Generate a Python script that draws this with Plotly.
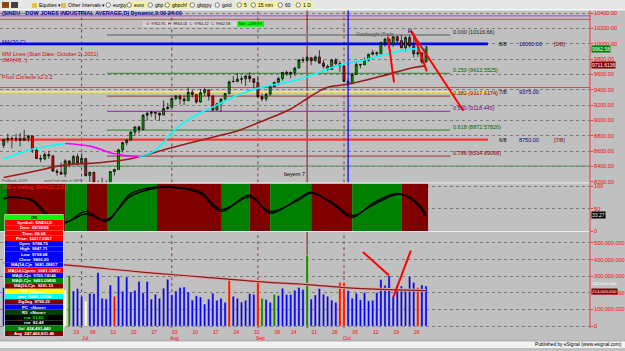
import plotly.graph_objects as go

# ---------------- data ----------------
dates = [
 "2009-06-04","2009-06-05","2009-06-08","2009-06-09","2009-06-10","2009-06-11","2009-06-12",
 "2009-06-15","2009-06-16","2009-06-17","2009-06-18","2009-06-19","2009-06-22","2009-06-23",
 "2009-06-24","2009-06-25","2009-06-26","2009-06-29","2009-06-30",
 "2009-07-01","2009-07-02","2009-07-06","2009-07-07","2009-07-08","2009-07-09","2009-07-10",
 "2009-07-13","2009-07-14","2009-07-15","2009-07-16","2009-07-17","2009-07-20","2009-07-21",
 "2009-07-22","2009-07-23","2009-07-24","2009-07-27","2009-07-28","2009-07-29","2009-07-30","2009-07-31",
 "2009-08-03","2009-08-04","2009-08-05","2009-08-06","2009-08-07","2009-08-10","2009-08-11",
 "2009-08-12","2009-08-13","2009-08-14","2009-08-17","2009-08-18","2009-08-19","2009-08-20",
 "2009-08-21","2009-08-24","2009-08-25","2009-08-26","2009-08-27","2009-08-28","2009-08-31",
 "2009-09-01","2009-09-02","2009-09-03","2009-09-04","2009-09-08","2009-09-09","2009-09-10",
 "2009-09-11","2009-09-14","2009-09-15","2009-09-16","2009-09-17","2009-09-18","2009-09-21",
 "2009-09-22","2009-09-23","2009-09-24","2009-09-25","2009-09-28","2009-09-29","2009-09-30",
 "2009-10-01","2009-10-02","2009-10-05","2009-10-06","2009-10-07","2009-10-08","2009-10-09",
 "2009-10-12","2009-10-13","2009-10-14","2009-10-15","2009-10-16","2009-10-19","2009-10-20",
 "2009-10-21","2009-10-22","2009-10-23","2009-10-26","2009-10-27","2009-10-28","2009-10-29",
]
opens = [8675,8750,8764,8764,8763,8740,8770,8799,8612,8504,8497,8555,8539,8339,8323,8299,8472,8438,8529,
         8447,8504,8280,8324,8163,8178,8183,8146,8332,8359,8616,8711,8743,8848,8916,8882,9069,9093,9108,9096,9070,9154,
         9172,9286,9320,9280,9257,9370,9337,9241,9362,9398,9321,9135,9217,9279,9350,9505,9509,9539,9543,9580,9544,
         9496,9310,9280,9344,9441,9497,9547,9627,9605,9626,9683,9791,9783,9820,9778,9829,9748,9707,9665,9789,9742,
         9712,9509,9487,9599,9731,9725,9786,9865,9885,9871,10016,10063,9996,10093,10041,9949,10081,9972,9868,9882,9762.91]
highs = [8760,8828,8790,8825,8839,8877,8812,8799,8652,8548,8584,8601,8539,8368,8450,8495,8480,8550,8565,
         8570,8504,8330,8330,8215,8250,8215,8340,8370,8630,8720,8760,8855,8920,8930,9080,9110,9125,9110,9100,9260,9230,
         9290,9330,9335,9330,9430,9400,9337,9410,9420,9400,9321,9230,9290,9360,9520,9580,9620,9580,9590,9630,9544,
         9580,9350,9350,9450,9505,9570,9630,9650,9640,9700,9800,9830,9847,9820,9850,9917,9790,9730,9800,9815,9775,
         9712,9540,9620,9760,9740,9820,9870,9920,9900,10030,10070,10063,10100,10110,10119,10100,10110,10090,9930,9882,9963.01]
lows = [8640,8705,8637,8720,8660,8735,8722,8575,8496,8456,8481,8500,8327,8280,8290,8260,8390,8430,8410,
        8440,8270,8195,8155,8087,8160,8110,8135,8280,8359,8580,8675,8740,8800,8830,8870,9000,9050,9010,8995,9070,9140,
        9172,9260,9210,9200,9257,9300,9220,9230,9320,9260,9120,9135,9110,9260,9350,9500,9500,9480,9450,9500,9420,
        9300,9250,9250,9320,9441,9460,9520,9580,9550,9580,9680,9750,9768,9720,9770,9745,9680,9645,9665,9720,9635,
        9500,9430,9487,9599,9680,9725,9770,9850,9840,9871,9960,9950,9960,10010,9940,9900,9950,9820,9830,9740,9760.12]
closes = [8750,8764,8764,8763,8740,8770,8799,8612,8504,8497,8555,8539,8339,8323,8299,8472,8438,8529,8447,
          8504,8280,8324,8163,8178,8183,8146,8332,8359,8616,8711,8743,8848,8916,8882,9069,9093,9108,9096,9070,9154,9172,
          9286,9320,9280,9257,9370,9337,9241,9362,9398,9321,9135,9217,9279,9350,9505,9509,9539,9543,9580,9544,9496,
          9310,9280,9344,9441,9497,9547,9627,9605,9626,9683,9791,9783,9820,9778,9829,9748,9707,9665,9789,9742,9712,
          9509,9487,9599,9731,9725,9786,9865,9885,9871,10016,10063,9996,10093,10041,9949,10081,9972,9868,9882,9762,9962.58]

# volume in millions of shares
volume_m = [232,250,240,260,270,255,230,290,300,280,260,420,300,280,260,
            216,305,212,226,179,149,198,196,323,168,163,248,179,302,210,296,206,216,270,202,268,163,192,168,228,282,
            189,212,232,236,206,157,183,175,
            133,163,198,155,167,143,286,179,167,145,155,196,192,262,167,161,143,192,184,228,190,190,216,232,220,424,
            163,187,226,192,179,157,143,262,262,214,167,198,159,202,153,155,202,280,246,302,177,212,242,226,300,262,
            232,248,242]
# volume bar state: b=normal, r=red, g=green, w=white
volume_state = list("bbbbbbbbbbbbbbb" + "wgbbbwbbbbbbrbbbbbbbbbbbbb" + "bbbbbbbb" +
                    "bbbbbbrbbbbbbrgbbgbbbbbbbgbbbbbbbrrbbbbbbbbbbbbbbbbbrbbw")

# overlays (bar index -> value)
fast_ma_idx = [0, 7, 15, 21, 27, 33, 37, 41, 44, 48, 52, 57, 62, 67, 72, 77, 83, 88, 93, 98, 103]
fast_ma_val = [8500, 8625, 8700, 8665, 8565, 8525, 8610, 8840, 8975, 9100, 9200, 9330, 9420, 9480,
               9535, 9630, 9740, 9790, 9860, 9920, 9950]
slow_ma_idx = [0, 7, 15, 23, 31, 40, 52, 57, 63, 70, 75, 79, 84, 92, 100, 103]
slow_ma_val = [8255, 8330, 8420, 8447, 8500, 8630, 8795, 8863, 8990, 9150, 9320, 9433, 9472, 9576, 9692, 9712]
vol_ma_idx = [0, 15, 25, 35, 48, 62, 74, 83, 94, 103]
vol_ma_val = [380, 368, 345, 322, 296, 268, 250, 232, 220, 214]

rsi_idx = [0, 2, 7, 11, 15, 20, 25, 31, 37, 42, 48, 53, 60, 65, 72, 75, 80, 85, 90, 96, 100, 103]
rsi_val = [73, 76, 67, 29, 18, 44, 22, 84, 98, 97, 84, 44, 80, 40, 73, 87, 62, 31, 62, 84, 67, 33]
rsi_sma = [72, 75, 70, 35, 20, 38, 25, 78, 96, 98, 87, 48, 76, 44, 70, 85, 65, 35, 58, 82, 70, 38]

band_edges = [-0.9, 0.8, 15.0, 20.3, 25.2, 37.4, 53.2, 60.0, 65.0, 75.0, 85.0, 97.0, 103.5]
band_state = ["g", "r", "g", "r", "g", "r", "g", "r", "g", "r", "g", "r"]

fib_levels = [0.000, 0.250, 0.382, 0.500, 0.618, 0.786]
fib_prices = [10116.66, 9613.5525, 9317.6174, 9118.445, 8872.57826, 8534.89068]
mm_prices = [10000.0, 9375.0, 8750.0]
mm_names = ["8/8", "7/8", "6/8"]
mm_tags = ["[0/8]", "", "[7/8]"]

tick_idx = [17, 21, 26, 31, 36, 41, 46, 51, 56, 61, 66, 70, 75, 80, 85, 90, 95, 100]
tick_txt = ["29", "06", "13", "20", "27", "03", "10", "17", "24", "31", "08", "14", "21", "28", "05", "12", "19", "26"]
month_idx = [19, 41, 62, 83]
month_txt = ["Jul", "Aug", "Sep", "Oct"]

# hand drawn trend lines (bar index, value)
price_lines = [((93.7, 10093), (95.2, 9498)), ((99.8, 10145), (103.2, 9640)), ((99.4, 10160), (112.1, 9127))]
volume_lines = [((87.6, 446), (94.0, 304)), ((95.0, 173), (99.3, 454))]

# ---------------- helpers ----------------
W, H = 625, 351
def X(px): return px / W
def Y(py): return 1 - py / H

BG = "#c0c0c0"
FONT = "Liberation Sans"
XR = [-0.902, 143.0]
XD = [0, 590 / W]

fig = go.Figure()

# candles
fig.add_trace(go.Candlestick(
    x=dates, open=opens, high=highs, low=lows, close=closes, xaxis="x", yaxis="y",
    increasing=dict(fillcolor="#00a000", line=dict(color="#000000", width=0.7)),
    decreasing=dict(fillcolor="#ee0000", line=dict(color="#000000", width=0.7)),
    whiskerwidth=0, showlegend=False, hoverinfo="skip"))

# slow MA (brown)
fig.add_trace(go.Scatter(x=[dates[i] for i in slow_ma_idx], y=slow_ma_val, mode="lines",
                         line=dict(color="#9a1c1c", width=1.6, shape="spline"), xaxis="x", yaxis="y",
                         showlegend=False, hoverinfo="skip"))
# fast MA: cyan rising, magenta falling
seg_a = fast_ma_idx[:3]; seg_b = fast_ma_idx[2:6]; seg_c = fast_ma_idx[5:]
for seg, col in [(seg_a, "#00ffff"), (seg_b, "#ff00ff"), (seg_c, "#00ffff")]:
    fig.add_trace(go.Scatter(x=[dates[i] for i in seg], y=[fast_ma_val[fast_ma_idx.index(i)] for i in seg],
                             mode="lines", line=dict(color=col, width=1.6, shape="spline"),
                             xaxis="x", yaxis="y", showlegend=False, hoverinfo="skip"))

# RSI
fig.add_trace(go.Scatter(x=[dates[i] for i in rsi_idx], y=rsi_val, mode="lines",
                         line=dict(color="#000000", width=1.4, shape="spline"), xaxis="x2", yaxis="y2",
                         showlegend=False, hoverinfo="skip"))
fig.add_trace(go.Scatter(x=[dates[i] for i in rsi_idx], y=rsi_sma, mode="lines",
                         line=dict(color="#000000", width=1.4, shape="spline"), xaxis="x2", yaxis="y2",
                         showlegend=False, hoverinfo="skip"))

# volume
vcol = {"b": "#0000ff", "r": "#ff0000", "g": "#008000", "w": "#ffffff"}
fig.add_trace(go.Bar(x=dates, y=[v * 1e6 for v in volume_m], marker=dict(color=[vcol[s] for s in volume_state],
                     line=dict(color="#e8e0a0", width=0.4)), width=0.55, xaxis="x3", yaxis="y3",
                     showlegend=False, hoverinfo="skip"))
fig.add_trace(go.Scatter(x=[dates[i] for i in vol_ma_idx], y=[v * 1e6 for v in vol_ma_val], mode="lines",
                         line=dict(color="#d8a8a8", width=3, shape="spline"), xaxis="x3", yaxis="y3",
                         showlegend=False, hoverinfo="skip"))
fig.add_trace(go.Scatter(x=[dates[i] for i in vol_ma_idx], y=[v * 1e6 for v in vol_ma_val], mode="lines",
                         line=dict(color="#8b1a1a", width=1.2, shape="spline"), xaxis="x3", yaxis="y3",
                         showlegend=False, hoverinfo="skip"))

shapes = []
ann = []

def text(xp, yp, s, color="#000000", size=5.5, xanchor="left", bg=None, bold=False):
    ann.append(dict(x=X(xp), y=Y(yp), xref="paper", yref="paper", text=("<b>%s</b>" % s) if bold else s,
                    showarrow=False, xanchor=xanchor, yanchor="middle",
                    font=dict(color=color, size=size, family=FONT), bgcolor=bg, borderpad=0))

def prect(x0, y0, x1, y1, fill, line=None, layer="above"):
    shapes.append(dict(type="rect", xref="paper", yref="paper", x0=X(x0), x1=X(x1), y0=Y(y1), y1=Y(y0),
                       fillcolor=fill, line=dict(width=0 if line is None else 0.6, color=line or fill), layer=layer))

# RSI bands
for k, st in enumerate(band_state):
    shapes.append(dict(type="rect", xref="x2", yref="y2", x0=band_edges[k], x1=band_edges[k + 1], y0=0, y1=106.7,
                       fillcolor="#008000" if st == "g" else "#800000", line=dict(width=0), layer="between"))

# full width horizontal lines in price panel
for pr, col, w in [(10365, "#a050c0", 1), (10320, "#b05a5a", 1), (9430, "#b05a5a", 1), (8405, "#4f9a4f", 1)]:
    shapes.append(dict(type="line", xref="paper", yref="y", x0=0, x1=XD[1], y0=pr, y1=pr,
                       line=dict(color=col, width=w), layer="between"))
# fib lines
fib_cols = ["#8c8c8c", "#4c8c4c", "#a05050", "#a040b0", "#4c8c4c", "#a05050"]
fib_txt_cols = ["#202020", "#006400", "#8b0000", "#800080", "#006400", "#8b0000"]
for lv, pr, c, tc in zip(fib_levels, fib_prices, fib_cols, fib_txt_cols):
    shapes.append(dict(type="line", xref="x", yref="y", x0=25.2, x1=108.9, y0=pr, y1=pr,
                       line=dict(color=c, width=2 if lv == 0 else 1.2), layer="between"))
    ann.append(dict(x=109.2, y=pr, xref="x", yref="y", text="%.3f (%s)" % (lv, ("%.5f" % pr).rstrip("0").rstrip(".")),
                    showarrow=False, xanchor="left", yanchor="bottom", yshift=-2,
                    font=dict(color=tc, size=5.5, family=FONT)))
# MM lines
mm_cols = ["#0000ff", "#ffff00", "#ff3030"]
mm_w = [2.6, 1.6, 2.2]
for pr, nm, tg, c, w in zip(mm_prices, mm_names, mm_tags, mm_cols, mm_w):
    shapes.append(dict(type="line", xref="x", yref="y", x0=-0.9, x1=118.1, y0=pr, y1=pr,
                       line=dict(color=c, width=w), layer="between"))
    ann.append(dict(x=X(497), y=pr, xref="paper", yref="y", text=nm, showarrow=False, xanchor="left",
                    font=dict(color="#000000", size=5.5, family=FONT)))
    ann.append(dict(x=X(517), y=pr, xref="paper", yref="y", text="%.2f" % pr, showarrow=False, xanchor="left",
                    font=dict(color="#000080", size=5.5, family=FONT)))
    if tg:
        ann.append(dict(x=X(552), y=pr, xref="paper", yref="y", text=tg, showarrow=False, xanchor="left",
                        font=dict(color="#800000", size=5.5, family=FONT)))

# vertical month separators (price + volume panels)
for i in month_idx:
    for yr0, yr1 in [(184, 10), (331, 234)]:
        shapes.append(dict(type="line", xref="x", yref="paper", x0=i, x1=i, y0=Y(yr0), y1=Y(yr1),
                           line=dict(color="#8b3a3a", width=1, dash="dot"), layer="between"))
# solid verticals
shapes.append(dict(type="line", xref="x", yref="paper", x0=74, x1=74, y0=Y(184), y1=Y(10),
                   line=dict(color="#8b1010", width=1), layer="between"))
shapes.append(dict(type="line", xref="x", yref="paper", x0=74, x1=74, y0=Y(331), y1=Y(234),
                   line=dict(color="#8b1010", width=1), layer="between"))
shapes.append(dict(type="line", xref="x", yref="paper", x0=84, x1=84, y0=Y(184), y1=Y(10),
                   line=dict(color="#0000ff", width=1.2), layer="above"))

# hand drawn lines
for (a, b) in price_lines:
    shapes.append(dict(type="line", xref="x", yref="y", x0=a[0], y0=a[1], x1=b[0], y1=b[1],
                       line=dict(color="#ff0000", width=2)))
for (a, b) in volume_lines:
    shapes.append(dict(type="line", xref="x3", yref="y3", x0=a[0], y0=a[1] * 1e6, x1=b[0], y1=b[1] * 1e6,
                       line=dict(color="#ff0000", width=2)))

# panel separators
for yy in [184.5, 233.5]:
    shapes.append(dict(type="line", xref="paper", yref="paper", x0=0, x1=XD[1], y0=Y(yy), y1=Y(yy),
                       line=dict(color="#ececec", width=1)))
# right red axis line
shapes.append(dict(type="line", xref="paper", yref="paper", x0=X(590), x1=X(590), y0=Y(331), y1=Y(10),
                   line=dict(color="#ff3030", width=1)))

# top toolbar
prect(0, 0, 625, 10, "#e6e6e6")
shapes.append(dict(type="line", xref="paper", yref="paper", x0=0, x1=1, y0=Y(10), y1=Y(10),
                   line=dict(color="#ffffff", width=1)))
prect(2, 2, 9, 8, "#8b4513"); prect(11, 2, 18, 8, "#404040")
for xx, lab in [(32, "Equities \u25be"), (61, "Other Intervals \u25be")]:
    prect(xx, 3, xx + 5, 8, "#e8c040")
    text(xx + 6, 5, lab, size=5)
for xx, lab, hi in [(106, "eurjpy", False), (127, "euro", True), (148, "gbp", False), (165, "gbpchf", True),
                    (190, "gbpjpy", False), (215, "gold", False), (237, "5", True), (251, "15 min", True),
                    (278, "60", False), (296, "1 D", True)]:
    if hi:
        prect(xx - 2, 1.5, xx + 6 + 3.3 * len(lab) + 2, 8.5, "#f6f0a0")
    shapes.append(dict(type="circle", xref="paper", yref="paper", x0=X(xx), x1=X(xx + 4.5), y0=Y(7.3), y1=Y(2.8),
                       line=dict(color="#303030", width=0.6), fillcolor="#ffffff"))
    text(xx + 6, 5, lab, size=5)

# title and legends
text(1, 13, "($INDU - DOW JONES INDUSTRIAL AVERAGE,D) Dynamic,0:00-24:00", color="#0000a0", size=5.5, bold=True)
text(1, 42, "MA(20,C)", color="#000080", size=5.5)
text(1, 54, "MM Lines (Start Date: October 2, 2001)", color="#e00000", size=5.5)
text(1, 60.5, "JMA(40,..)", color="#e00000", size=5.5)
text(1, 78, "Pivot Console v2.0.2", color="#e00000", size=5.5)
text(1, 182, "Pullback 2009", color="#505050", size=4)
text(43, 182, "autoTrail sma in GFT", color="#505050", size=4)
text(283, 176, "beyem 7", color="#000000", size=5.5)
text(407, 31, "H", color="#000080", size=5.5, bold=True)
text(355, 34.5, "Overbought (Trade", color="#505050", size=4.5)
text(1, 188.5, "RSI + trailing SMA(10,2,0,)", color="#ff2020", size=5.5)

# OHLC info box
prect(143, 21.5, 237, 27, "#d6d6d6")
text(144.5, 24.2, "O: 9762.91  H: 9963.01  L: 9760.12  C: 9962.58", size=4)
prect(237, 21.5, 264, 27, "#00ff00")
text(250.5, 24.2, "Net: +199.89", size=4, xanchor="center")

# data window
rows = [("OK", "#00ff00", "#000000"), ("Symbol: $INDU,D", "#ff0000", "#ffffff"),
        ("Date: 09/18/09", "#ff0000", "#ffffff"), ("Time: 00:00", "#ff0000", "#ffffff"),
        ("Price: 10217.8857", "#ff0000", "#ffffff"), ("Open  9784.75", "#0000ff", "#ffffff"),
        ("High  9847.71", "#0000ff", "#ffffff"), ("Low  9768.68", "#0000ff", "#ffffff"),
        ("Close  9820.20", "#0000ff", "#ffffff"), ("MA(14,C)n  9681.28817", "#0000ff", "#ffffff"),
        ("MA(14,C)prev  9681.15817", "#ff0000", "#ffffff"), ("MA(0,C)n  9705.74146", "#0000ff", "#ffffff"),
        ("MA(0,C)n  9493.09895", "#008000", "#ffffff"), ("MA(10,C)n  9291.13", "#800000", "#ffffff"),
        ("PC  <None>", "#ffff00", "#ffffff"), ("prev  9481.13918", "#00ffff", "#ffffff"),
        ("ZigZag  9796.23", "#800000", "#ffffff"), ("PC  <None>", "#0000ff", "#ffffff"),
        ("R3  <None>", "#004000", "#ffffff"), ("rsa  51.65", "#000000", "#00ff00"),
        ("rsa  82.48", "#000000", "#ffffff"), ("Vol  424,491,440", "#008000", "#ffffff"),
        ("Avg  247,466,831.46", "#800000", "#ffffff")]
top = 216.5; rh = 5.33
prect(4.5, top - 0.5, 63.5, top + rh * len(rows) + 0.5, "#ffffff")
for k, (s, bg, fc) in enumerate(rows):
    prect(5, top + k * rh, 63, top + (k + 1) * rh, bg)
    text(34, top + (k + 0.5) * rh, s, color=fc, size=4.3, xanchor="center", bold=True)

# right side tags
def tag(ypx, s, bg, fc="#ffffff", size=5):
    ann.append(dict(x=X(590.5), y=Y(ypx), xref="paper", yref="paper", text=s, showarrow=False, xanchor="left",
                    yanchor="middle", font=dict(color=fc, size=size, family=FONT), bgcolor=bg, borderpad=0))
tag(49, "%.2f" % closes[-1], "#008000")
tag(65.5, "%.4f" % 9711.6136, "#800000")
tag(216.5, "33.27", "#000000")
tag(285.5, "{:,}".format(volume_m[-1] * 1000000), None, "#ffffff", 4.4)
tag(294, "{:,}".format(vol_ma_val[-1] * 1000000), "#800000", "#ffffff", 4.4)

# month labels
for i, m in zip(month_idx, month_txt):
    ann.append(dict(x=dates[i], y=Y(341), xref="x3", yref="paper", text=m, showarrow=False, xanchor="center",
                    yanchor="middle", xshift=3, font=dict(color="#ff0000", size=5, family=FONT)))

# bottom strip
prect(0, 344, 625, 351, "#f2f2f2")
shapes.append(dict(type="line", xref="paper", yref="paper", x0=0, x1=1, y0=Y(344), y1=Y(344),
                   line=dict(color="#909090", width=0.6)))
text(623, 347.8, "Published by eSignal (www.esignal.com)", size=4.8, xanchor="right")

axis_common = dict(type="category", categoryorder="array", categoryarray=dates, range=XR, domain=XD,
                   showgrid=False, zeroline=False, showline=False, fixedrange=True)
yfont = dict(color="#ff0000", size=5.5, family=FONT)
fig.update_layout(
    width=W, height=H, margin=dict(l=0, r=0, t=0, b=0),
    paper_bgcolor=BG, plot_bgcolor=BG, showlegend=False,
    xaxis=dict(axis_common, anchor="y", showticklabels=False, rangeslider=dict(visible=False)),
    xaxis2=dict(axis_common, anchor="y2", showticklabels=False, matches="x"),
    xaxis3=dict(axis_common, anchor="y3", matches="x", tickmode="array",
                tickvals=[dates[i] for i in tick_idx], ticktext=tick_txt,
                tickfont=dict(color="#ff0000", size=5, family=FONT),
                ticks="", ticklabelshift=3, ticklabelstandoff=0, tickangle=0),
    yaxis=dict(domain=[Y(184), Y(10)], range=[8191, 10442.7], side="right", anchor="x",
               tickvals=list(range(8200, 10401, 200)), ticktext=["%.2f" % v for v in range(8200, 10401, 200)],
               tickfont=yfont, showgrid=True, gridcolor="#7c7c7c", griddash="dot", gridwidth=1,
               zeroline=False, ticks="outside", ticklen=2, tickcolor="#ff3030", fixedrange=True),
    yaxis2=dict(domain=[Y(233), Y(185)], range=[0, 106.7], side="right", anchor="x2",
                tickvals=[0, 50, 100], tickfont=yfont, showgrid=True, gridcolor="#7c7c7c", griddash="dot",
                zeroline=False, ticks="outside", ticklen=2, tickcolor="#ff3030", fixedrange=True),
    yaxis3=dict(domain=[Y(331), Y(234)], range=[-11.9e6, 565.5e6], side="right", anchor="x3",
                tickvals=[0, 100e6, 200e6, 300e6, 400e6, 500e6],
                ticktext=["0", "100,000,000", "200,000,000", "300,000,000", "400,000,000", "500,000,000"],
                tickfont=yfont, showgrid=True, gridcolor="#7c7c7c", griddash="dot",
                zeroline=False, ticks="outside", ticklen=2, tickcolor="#ff3030", fixedrange=True),
    shapes=shapes, annotations=ann, bargap=0.4,
)
fig.write_html("out.html")
